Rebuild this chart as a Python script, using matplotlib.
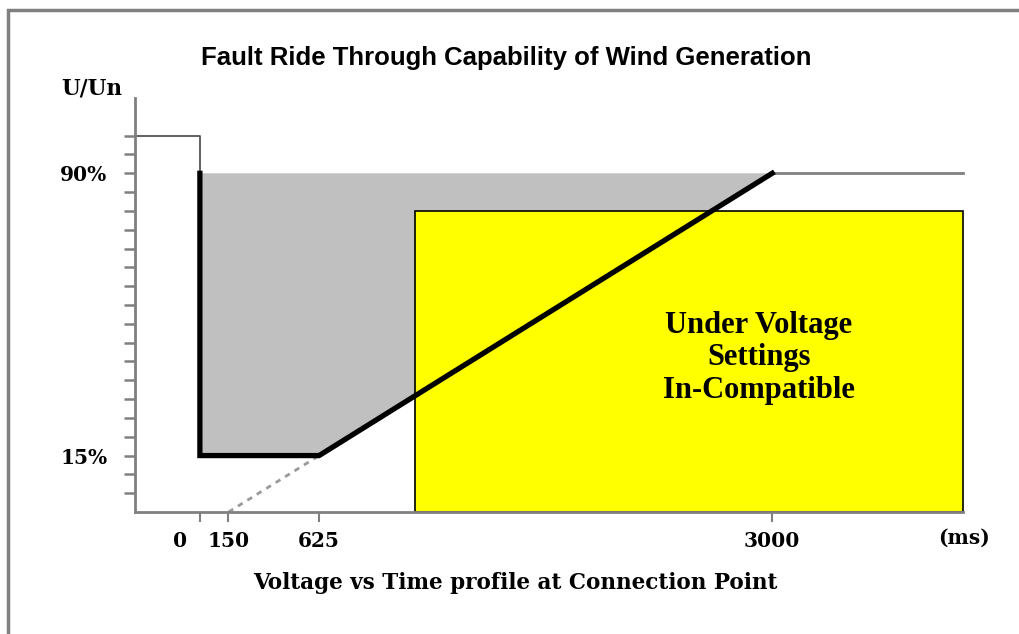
import matplotlib
matplotlib.use("Agg")
import matplotlib.pyplot as plt
import matplotlib.patches as patches
import matplotlib.transforms as mtransforms

# --- data (time in ms, voltage in % of Un) ---
fault_t = [0, 0, 625, 3000]          # ride-through envelope (thick black)
fault_u = [90, 15, 15, 90]
pre_t = [-340, 0, 0]                 # pre-fault voltage
pre_u = [100, 100, 90]
post_t = [3000, 4000]                # recovered voltage
post_u = [90, 90]
ext_t = [150, 625]                   # dotted extension of the recovery ramp
ext_u = [0, 15]
uv_t = [1130, 4000]                  # under-voltage settings box (time span)
uv_u = 80                            # box height (%)

xtick_vals = [0, 150, 625, 3000]
xtick_text = ["0", "150", "625", "3000"]
ytick_vals = [15, 90]
ytick_text = ["15%", "90%"]
yminor_vals = list(range(5, 101, 5))

serif = "DejaVu Serif"
sans = "Liberation Sans"

fig = plt.figure(figsize=(10.19, 6.34), dpi=100)
ax = fig.add_axes([0.1325, 0.1924, 0.8125, 0.653])
ax.set_xlim(-340, 4000)
ax.set_ylim(0, 110)

# grey region above the envelope
ax.fill(fault_t, fault_u, color="#c0c0c0", lw=0, zorder=1)

# yellow under-voltage box
ax.add_patch(patches.Rectangle((uv_t[0], 0), uv_t[1] - uv_t[0], uv_u,
                               facecolor="#ffff00", edgecolor="black",
                               lw=1.2, zorder=2, clip_on=False))

ax.plot(pre_t, pre_u, color="#555555", lw=1.3, zorder=3, clip_on=False)
ax.plot(post_t, post_u, color="#808080", lw=2, zorder=3, clip_on=False)
ax.plot(ext_t, ext_u, color="#9a9a9a", lw=2, ls=(0, (2, 2)), zorder=3)
ax.plot(fault_t, fault_u, color="black", lw=3.8, zorder=4,
        solid_joinstyle="miter")

ax.text(2930, 41, "Under Voltage\nSettings\nIn-Compatible", ha="center",
        va="center", fontsize=22, fontweight="bold",
        family="Liberation Serif", linespacing=1.15, zorder=5)

# axes styling
for s in ["top", "right"]:
    ax.spines[s].set_visible(False)
for s in ["left", "bottom"]:
    ax.spines[s].set_color("#808080")
    ax.spines[s].set_linewidth(2)
    ax.spines[s].set_zorder(6)

ax.set_xticks(xtick_vals)
ax.set_xticklabels(xtick_text, fontsize=14.5, fontweight="bold", family=serif)
ax.set_yticks(ytick_vals)
ax.set_yticklabels(ytick_text, fontsize=14.5, fontweight="bold", family=serif)
ax.set_yticks(yminor_vals, minor=True)
ax.tick_params(axis="x", length=7, width=1.5, color="#808080", pad=7)
ax.tick_params(axis="y", which="both", length=8, width=1.8,
               color="#808080", pad=12)

# shift the "0" label left so it clears "150"
lab0 = ax.get_xticklabels()[0]
lab0.set_transform(lab0.get_transform() +
                   mtransforms.ScaledTranslation(-0.2, 0, fig.dpi_scale_trans))

fig.text(0.497, 0.908, "Fault Ride Through Capability of Wind Generation",
         ha="center", va="center", fontsize=18.5, fontweight="bold",
         family=sans)
fig.text(0.0905, 0.861, "U/Un", ha="center", va="center", fontsize=15.5,
         fontweight="bold", family=serif)
fig.text(0.946, 0.152, "(ms)", ha="center", va="center", fontsize=14.5,
         fontweight="bold", family=serif)
fig.text(0.506, 0.080, "Voltage vs Time profile at Connection Point",
         ha="center", va="center", fontsize=15.5, fontweight="bold",
         family=serif)

# outer frame (only top and left edges are visible in the original)
fig.patches.append(patches.Rectangle((8 / 1019, -0.2), 1.2, 0.2 + 1 - 10.5 / 634,
                                     transform=fig.transFigure, fill=False,
                                     edgecolor="#808080", lw=2.5))

fig.savefig("out.png", dpi=100)
